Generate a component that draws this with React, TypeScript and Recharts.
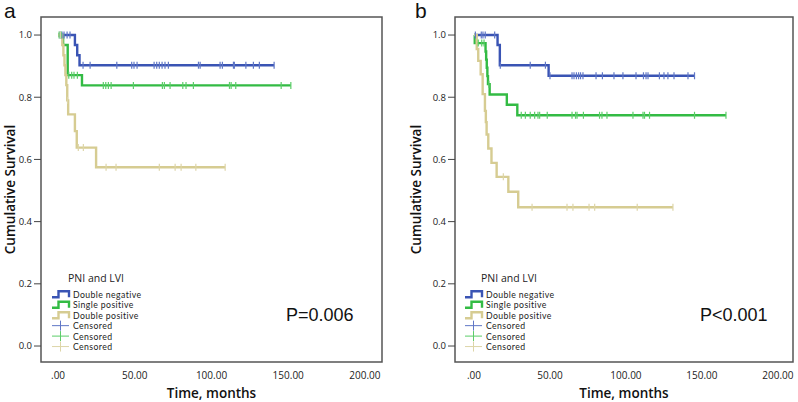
import React from 'react';
import { ComposedChart, Line, Scatter, XAxis, YAxis, ReferenceArea } from 'recharts';

// ---------- Panel a ----------
const aNegTimes = [0, 11, 12.5, 14, 140.8];
const aNegSurv = [1, 0.968, 0.935, 0.903, 0.903];
const aNegCensor = [1.3, 2.6, 3.9, 5.9, 7.8, 16.3, 20.9, 38.3, 48, 49.5, 51.5, 62.6, 64.3, 66, 67.8, 69.7, 71.9, 91.5, 92.6, 105.6, 107.1, 114.3, 114.9, 122.4, 127.3, 131.2, 140.8];

const aSingleTimes = [0, 3.3, 6.3, 15.6, 151.7];
const aSingleSurv = [1, 0.968, 0.871, 0.838, 0.838];
const aSingleCensor = [0.7, 2, 7, 8.9, 10.4, 12.6, 29.5, 31.1, 32.8, 34.6, 49.1, 68, 69.3, 73, 81.3, 83.4, 88.2, 111.7, 112.8, 115.8, 145.4, 151.7];

const aDoubleTimes = [0, 2.8, 3.5, 4.2, 4.8, 5.4, 6, 6.6, 11, 12.2, 24.8, 108.9];
const aDoubleSurv = [1, 0.968, 0.935, 0.903, 0.871, 0.839, 0.79, 0.745, 0.691, 0.638, 0.575, 0.575];
const aDoubleCensor = [1.5, 6.2, 13.2, 16.5, 31.3, 37.8, 66, 76.3, 80.2, 89.8, 108.9];

// ---------- Panel b ----------
const bNegTimes = [0, 15.5, 17, 49.1, 145.1];
const bNegSurv = [1, 0.968, 0.903, 0.869, 0.869];
const bNegCensor = [0.9, 4.8, 5.9, 7.4, 13.6, 17.3, 37, 47, 50, 64.5, 65.8, 67.4, 68.8, 70.1, 71.7, 80.3, 84.5, 92.1, 98, 106.6, 111.5, 113.2, 114.5, 122, 125, 127.6, 131.6, 140.8, 145.1];

const bSingleTimes = [0, 0.5, 7.6, 8, 8.4, 8.8, 9.2, 10.3, 21.6, 28.5, 165.8];
const bSingleSurv = [1, 0.974, 0.947, 0.921, 0.895, 0.868, 0.842, 0.809, 0.776, 0.742, 0.742];
const bSingleCensor = [2.8, 5.1, 6.6, 9.8, 31.1, 33.8, 37, 39.9, 42.1, 43.2, 48.2, 64.5, 66.8, 67.8, 72, 82.6, 84.2, 87.5, 104.6, 111.2, 112.2, 115.5, 145.1, 165.8];

const bDoubleTimes = [0, 1.8, 2.8, 4.4, 5.7, 7.2, 7.8, 8.3, 9.4, 11.5, 14.9, 22.6, 29.1, 130.9];
const bDoubleSurv = [1, 0.955, 0.917, 0.874, 0.81, 0.756, 0.72, 0.68, 0.635, 0.589, 0.544, 0.496, 0.446, 0.446];
const bDoubleCensor = [19.3, 38.2, 61.2, 65.1, 75.7, 79.4, 107.4, 130.9];

const xTicks = [0, 50, 100, 150, 200];
const yTicks = [0, 0.2, 0.4, 0.6, 0.8, 1.0];
const groupLabels = ['Double negative', 'Single positive', 'Double positive'];
const censorLabel = 'Censored';
const legendTitle = 'PNI and LVI';
const xTitle = 'Time, months';
const yTitle = 'Cumulative Survival';

const BLUE = '#3a54b4';
const GREEN = '#33bb44';
const TAN = '#d6cc92';
const BLUE_C = '#6077c6';
const GREEN_C = '#5ccd69';
const TAN_C = '#ddd5a8';
const COLORS = [BLUE, GREEN, TAN];
const CCOLORS = [BLUE_C, GREEN_C, TAN_C];

type Pt = { t: number; s: number };
const build = (times: number[], surv: number[]): Pt[] => times.map((t, i) => ({ t, s: surv[i] }));
const survAt = (times: number[], surv: number[], t: number) => {
  let s = surv[0];
  for (let i = 0; i < times.length; i++) if (times[i] <= t) s = surv[i];
  return s;
};
const censorPts = (times: number[], surv: number[], cens: number[]): Pt[] =>
  cens.map((t) => ({ t, s: survAt(times, surv, t) }));

const fmtX = (v: number) => (v === 0 ? '.00' : v.toFixed(2));
const fmtY = (v: number) => v.toFixed(1);

const makeCensorShape = (color: string) => (props: any) => {
  const { cx, cy } = props;
  if (cx == null || cy == null) return <g />;
  return <line x1={cx} x2={cx} y1={cy - 3.5} y2={cy + 3.5} stroke={color} strokeWidth={1.2} />;
};

type Series = { line: Pt[]; cens: Pt[] };

const Panel = ({ left, series, xDomain, yWidth, rightMargin, yTitleOffset }: {
  left: number; series: Series[]; xDomain: [number, number]; yWidth: number; rightMargin: number; yTitleOffset: number;
}) => {
  const yDomain: [number, number] = [-0.0514, 1.058];
  return (
    <div style={{ position: 'absolute', left, top: 0 }}>
      <ComposedChart width={400} height={402} margin={{ top: 17, right: rightMargin, bottom: 0, left: 0 }}>
        <XAxis
          type="number"
          dataKey="t"
          domain={xDomain}
          allowDataOverflow
          ticks={xTicks}
          tickFormatter={fmtX}
          height={40}
          axisLine={false}
          tickLine={false}
          tickSize={0}
          tickMargin={10}
          tick={{ fontSize: 10, fill: '#222', fontFamily: 'Open Sans' }}
          label={{ value: xTitle, position: 'insideBottom', offset: 4, fontSize: 13.5, fontWeight: 600, fill: '#111', fontFamily: 'Open Sans' }}
        />
        <YAxis
          type="number"
          dataKey="s"
          domain={yDomain}
          allowDataOverflow
          ticks={yTicks}
          tickFormatter={fmtY}
          width={yWidth}
          axisLine={false}
          tickSize={7}
          tickMargin={2}
          tickLine={{ stroke: '#444', strokeWidth: 1 }}
          tick={{ fontSize: 9.5, fill: '#222', fontFamily: 'Open Sans' }}
          label={{ value: yTitle, angle: -90, position: 'insideLeft', offset: yTitleOffset, textAnchor: 'middle', fontSize: 13.5, fontWeight: 600, fill: '#111', fontFamily: 'Open Sans' }}
        />
        <ReferenceArea x1={xDomain[0]} x2={xDomain[1]} y1={yDomain[0]} y2={yDomain[1]} fill="none" stroke="#555" strokeWidth={1.5} ifOverflow="visible" />
        {series.map((s, i) => (
          <Line
            key={'l' + i}
            data={s.line}
            dataKey="s"
            type="stepAfter"
            stroke={COLORS[i]}
            strokeWidth={2.4}
            dot={false}
            activeDot={false}
            isAnimationActive={false}
          />
        ))}
        {series.map((s, i) => (
          <Scatter
            key={'c' + i}
            data={s.cens}
            dataKey="s"
            shape={makeCensorShape(CCOLORS[i])}
            isAnimationActive={false}
          />
        ))}
      </ComposedChart>
    </div>
  );
};

const LEGEND_FONT = { fontSize: 8.7, fontFamily: 'Lato', letterSpacing: 0.4, fill: '#222' };

const LegendBox = ({ left }: { left: number }) => (
  <svg style={{ position: 'absolute', left, top: 268, overflow: 'visible' }} width={130} height={86}>
    <text x={16} y={10} dominantBaseline="central" fontSize={10.5} fontFamily="Open Sans" fill="#222">{legendTitle}</text>
    {groupLabels.map((g, i) => {
      const y = 26.3 + i * 10.45;
      return (
        <g key={g}>
          <path d={`M0,${y + 3} H6.5 V${y - 3} H17 V${y + 3}`} fill="none" stroke={COLORS[i]} strokeWidth={2.4} />
          <text x={21} y={y} dominantBaseline="central" style={LEGEND_FONT}>{g}</text>
        </g>
      );
    })}
    {CCOLORS.map((c, i) => {
      const y = 26.3 + (i + 3) * 10.45;
      return (
        <g key={'cz' + i}>
          <line x1={0} x2={17} y1={y} y2={y} stroke={c} strokeWidth={1} />
          <line x1={8.5} x2={8.5} y1={y - 5} y2={y + 5} stroke={c} strokeWidth={1} />
          <text x={21} y={y} dominantBaseline="central" style={LEGEND_FONT}>{censorLabel}</text>
        </g>
      );
    })}
  </svg>
);

export default function App() {
  const aSeries: Series[] = [
    { line: build(aNegTimes, aNegSurv), cens: censorPts(aNegTimes, aNegSurv, aNegCensor) },
    { line: build(aSingleTimes, aSingleSurv), cens: censorPts(aSingleTimes, aSingleSurv, aSingleCensor) },
    { line: build(aDoubleTimes, aDoubleSurv), cens: censorPts(aDoubleTimes, aDoubleSurv, aDoubleCensor) },
  ];
  const bSeries: Series[] = [
    { line: build(bNegTimes, bNegSurv), cens: censorPts(bNegTimes, bNegSurv, bNegCensor) },
    { line: build(bSingleTimes, bSingleSurv), cens: censorPts(bSingleTimes, bSingleSurv, bSingleCensor) },
    { line: build(bDoubleTimes, bDoubleSurv), cens: censorPts(bDoubleTimes, bDoubleSurv, bDoubleCensor) },
  ];
  return (
    <div style={{ position: 'absolute', left: 0, top: 0, width: 798, height: 402, background: '#fff', overflow: 'hidden' }}>
      <Panel left={0} series={aSeries} xDomain={[-11.1, 211.1]} yWidth={41} rightMargin={18} yTitleOffset={10} />
      <Panel left={398} series={bSeries} xDomain={[-12.5, 209.9]} yWidth={57} rightMargin={5} yTitleOffset={18.5} />
      <LegendBox left={52} />
      <LegendBox left={465} />
      <svg style={{ position: 'absolute', left: 0, top: 0, overflow: 'visible', pointerEvents: 'none' }} width={798} height={402}>
        <text x={4} y={18} fontSize={21} fontFamily="Liberation Sans" fill="#111">a</text>
        <text x={415} y={18} fontSize={21} fontFamily="Liberation Sans" fill="#111">b</text>
        <text x={286} y={315} dominantBaseline="central" fontSize={18} fontFamily="Liberation Sans" fill="#111">P=0.006</text>
        <text x={700} y={315} dominantBaseline="central" fontSize={18} fontFamily="Liberation Sans" fill="#111">P&lt;0.001</text>
      </svg>
    </div>
  );
}
